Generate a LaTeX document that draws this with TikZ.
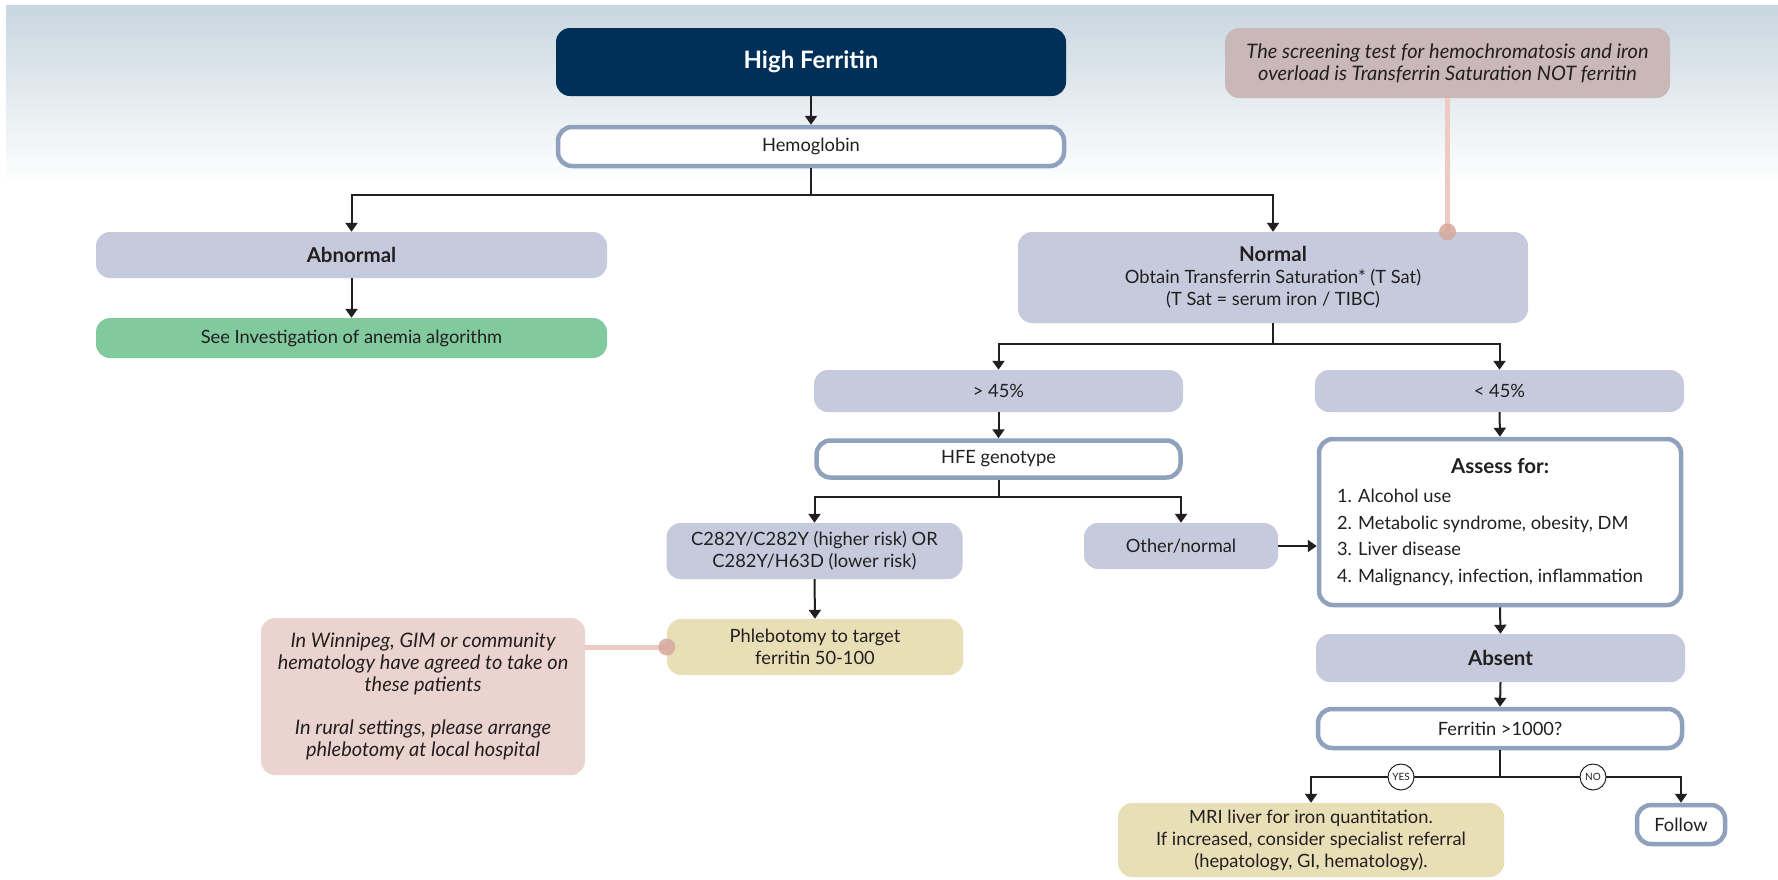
\documentclass[tikz,border=0pt]{standalone}
\usepackage{fontspec}
\setmainfont{Lato}
\usetikzlibrary{arrows.meta,calc}
\definecolor{navy}{HTML}{003057}
\definecolor{lav}{HTML}{C5CBDC}
\definecolor{edge}{HTML}{8FA1BD}
\definecolor{grn}{HTML}{80CA9E}
\definecolor{tan}{HTML}{E9DFB7}
\definecolor{pinknote}{HTML}{EBD4CF}
\definecolor{scrnote}{HTML}{C9B8B7}
\definecolor{pinkline}{HTML}{EDCBC3}
\definecolor{pinkdot}{HTML}{D6A89D}
\definecolor{ink}{HTML}{231F20}
\definecolor{bgtop}{HTML}{C8D6DF}
\newcommand{\bfbig}[1]{{\fontsize{20.5}{22}\selectfont\bfseries #1}}
\tikzset{
  base/.style={rounded corners=14pt, align=center, text=ink, inner sep=0pt,
    font=\fontsize{18.3}{22}\selectfont},
  lavbox/.style={base, fill=lav},
  whitebox/.style={base, fill=white, draw=edge, line width=4.5pt},
  tanbox/.style={base, fill=tan},
  notebox/.style={base, font=\fontsize{20}{22}\selectfont\itshape},
  arr/.style={draw=ink, line width=2pt, -{Triangle[width=12pt,length=9pt]}},
  ln/.style={draw=ink, line width=2pt},
  pin/.style={draw=pinkline, line width=5pt},
  dot/.style={circle, fill=pinkdot, fill opacity=0.85, minimum size=17pt, inner sep=0pt},
  yn/.style={circle, draw=ink, line width=1pt, fill=white, inner sep=0pt, minimum size=26pt,
    font=\fontsize{10}{12}\selectfont, text=ink}
}
\begin{document}
\begin{tikzpicture}[x=1pt,y=-1pt]
\useasboundingbox (0,0) rectangle (1778,879);
\fill[white] (0,0) rectangle (1778,879);
\shade[top color=bgtop, bottom color=white] (6,5) rectangle (1778,185);

% notes behind
\node[notebox, fill=scrnote, minimum width=445pt, minimum height=70pt] (scr) at (1447.5,63)
  {The screening test for hemochromatosis and iron\\overload is Transferrin Saturation NOT ferritin};
\node[notebox, fill=pinknote, minimum width=324pt, minimum height=157pt] (win) at (423,696.5)
  {In Winnipeg, GIM or community\\hematology have agreed to take on\\these patients\\[21pt]In rural settings, please arrange\\phlebotomy at local hospital};

\node[base, fill=navy, text=white, minimum width=510pt, minimum height=68pt,
  font=\fontsize{24}{26}\selectfont\bfseries] (hf) at (811,62) {High Ferritin};
\node[whitebox, minimum width=506pt, minimum height=39pt] (hb) at (811,146.5) {Hemoglobin};

\node[lavbox, minimum width=511pt, minimum height=46pt] (ab) at (351.5,255) {\bfbig{Abnormal}};
\node[base, fill=grn, minimum width=511pt, minimum height=40pt] (see) at (351.5,338) {See Investigation of anemia algorithm};

\node[lavbox, minimum width=510pt, minimum height=91pt] (norm) at (1273,277.5)
  {\bfbig{Normal}\\Obtain Transferrin Saturation* (T Sat)\\(T Sat = serum iron / TIBC)};

\node[lavbox, minimum width=369pt, minimum height=42pt] (gt) at (998.5,391) {> 45\%};
\node[lavbox, minimum width=369pt, minimum height=42pt] (lt) at (1499.5,391) {< 45\%};

\node[whitebox, minimum width=364pt, minimum height=37pt] (hfe) at (998.5,459) {HFE genotype};

\node[lavbox, minimum width=296pt, minimum height=56pt] (c282) at (814.5,551)
  {C282Y/C282Y (higher risk) OR\\C282Y/H63D (lower risk)};
\node[lavbox, minimum width=194pt, minimum height=46pt] (oth) at (1181,546) {Other/normal};

\node[tanbox, minimum width=296pt, minimum height=56pt] (phl) at (815,647)
  {Phlebotomy to target\\ferritin 50-100};

\node[whitebox, minimum width=362pt, minimum height=166pt] (assess) at (1500,522)
  {\parbox{326pt}{\fontsize{18.3}{26.5}\selectfont\centering\bfbig{Assess for:}\par\vspace{3pt}\raggedright
  1. Alcohol use\\2. Metabolic syndrome, obesity, DM\\3. Liver disease\\4. Malignancy, infection, inflammation}};

\node[lavbox, minimum width=369pt, minimum height=48pt] (absent) at (1500.5,658) {\bfbig{Absent}};
\node[whitebox, minimum width=364pt, minimum height=39pt] (fer) at (1500,728.5) {Ferritin >1000?};

\node[tanbox, minimum width=386pt, minimum height=74pt] (mri) at (1311,840)
  {MRI liver for iron quantitation.\\If increased, consider specialist referral\\(hepatology, GI, hematology).};
\node[whitebox, minimum width=88pt, minimum height=39pt] (follow) at (1681,824.5) {Follow};

% note connectors
\draw[pin] (scr.south) -- (scr.south |- norm.north);
\node[dot] (d1) at (scr.south |- norm.north) {};
\draw[pin] (win.east |- phl.west) -- (phl.west);
\node[dot] (d2) at (phl.west) {};

% flow connectors
\draw[arr] (hf.south) -- (hb.north);
\coordinate (j1) at (811,195);
\draw[ln] (hb.south) -- (j1);
\draw[arr] (j1) -| (ab.north);
\draw[arr] (j1) -| (norm.north);
\draw[arr] (ab.south) -- (see.north);

\coordinate (j2) at (1273,344);
\draw[ln] (norm.south) -- (j2);
\draw[arr] (j2) -| (gt.north);
\draw[arr] (j2) -| (lt.north);

\draw[arr] (gt.south) -- (hfe.north);
\coordinate (j3) at (998.5,497);
\draw[ln] (hfe.south) -- (j3);
\draw[arr] (j3) -| (c282.north);
\draw[arr] (j3) -| (oth.north);
\draw[arr] (c282.south) -- (phl.north);
\draw[arr] (oth.east) -- (oth.east -| assess.west);

\draw[arr] (lt.south) -- (assess.north);
\draw[arr] (assess.south) -- (absent.north);
\draw[arr] (absent.south) -- (fer.north);

\coordinate (j4) at (1500,777);
\draw[ln] (fer.south) -- (j4);
\draw[arr] (j4) -| (mri.north);
\draw[arr] (j4) -| (follow.north);
\node[yn] (yes) at (1401,777) {YES};
\node[yn] (no) at (1593,777) {NO};
\end{tikzpicture}
\end{document}
